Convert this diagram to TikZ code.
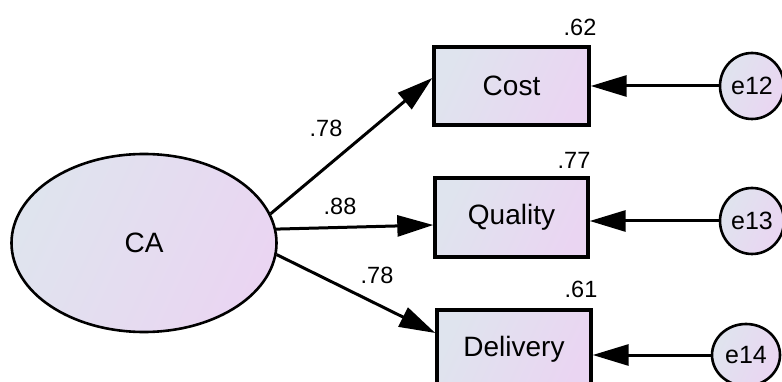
\documentclass[tikz,border=0pt]{standalone}
\usepackage{fontspec}
\setmainfont{Liberation Sans}
\usetikzlibrary{arrows.meta,shapes.geometric,calc}
\definecolor{fillA}{HTML}{DFE4EE}
\definecolor{fillB}{HTML}{EAD5F2}
\tikzset{
  grad/.style={left color=fillA, right color=fillB, shading angle=65},
  latent/.style={ellipse, draw, line width=2.6pt, grad, inner sep=0pt,
    font=\fontsize{28}{32}\selectfont},
  obs/.style={rectangle, draw, line width=3.4pt, grad, inner sep=0pt,
    font=\fontsize{28}{32}\selectfont},
  err/.style={ellipse, draw, line width=2.6pt, grad, inner sep=0pt,
    font=\fontsize{25}{29}\selectfont},
  path/.style={line width=3pt, -{Triangle[length=36pt,width=21pt]}},
  coef/.style={font=\fontsize{23.5}{27}\selectfont, inner sep=0pt}
}
\begin{document}
\begin{tikzpicture}[x=1pt,y=-1pt]
  \useasboundingbox (0,0) rectangle (782,382);
  % latent factor
  \node[latent, minimum width=265, minimum height=178] (CA) at (144,243) {CA};
  % indicators
  \node[obs, minimum width=155, minimum height=78] (cost) at (511.5,86) {Cost};
  \node[obs, minimum width=153, minimum height=79] (quality) at (511.5,217.5) {Quality};
  \node[obs, minimum width=154, minimum height=78] (delivery) at (514,349) {Delivery};
  % error terms
  \node[err, minimum width=64, minimum height=66] (e12) at (752,86) {e12};
  \node[err, minimum width=64, minimum height=66] (e13) at (752,221) {e13};
  \node[err, minimum width=68, minimum height=62] (e14) at (746,355) {e14};
  % arrow end points on the indicators
  \coordinate (tc) at ($(cost.west)+(0,-8)$);
  \coordinate (tq) at ($(quality.west)+(0,7.5)$);
  \coordinate (td) at ($(delivery.west)+(0,-16)$);
  % loadings
  \draw[path] (CA.13) -- (tc);
  \draw[path] (CA.6) -- (tq);
  \draw[path] (CA.-5) -- (td);
  % error paths
  \draw[path] (e12) -- (cost.east |- e12);
  \draw[path] (e13) -- (quality.east |- e13);
  \draw[path] (e14) -- (delivery.east |- e14);
  % coefficients
  \node[coef] (l1) at (326,128) {.78};
  \node[coef] (l2) at (340,206) {.88};
  \node[coef] (l3) at (377,275) {.78};
  \node[coef] (r1) at (580,27) {.62};
  \node[coef] (r2) at (574,160) {.77};
  \node[coef] (r3) at (581,289) {.61};
\end{tikzpicture}
\end{document}
